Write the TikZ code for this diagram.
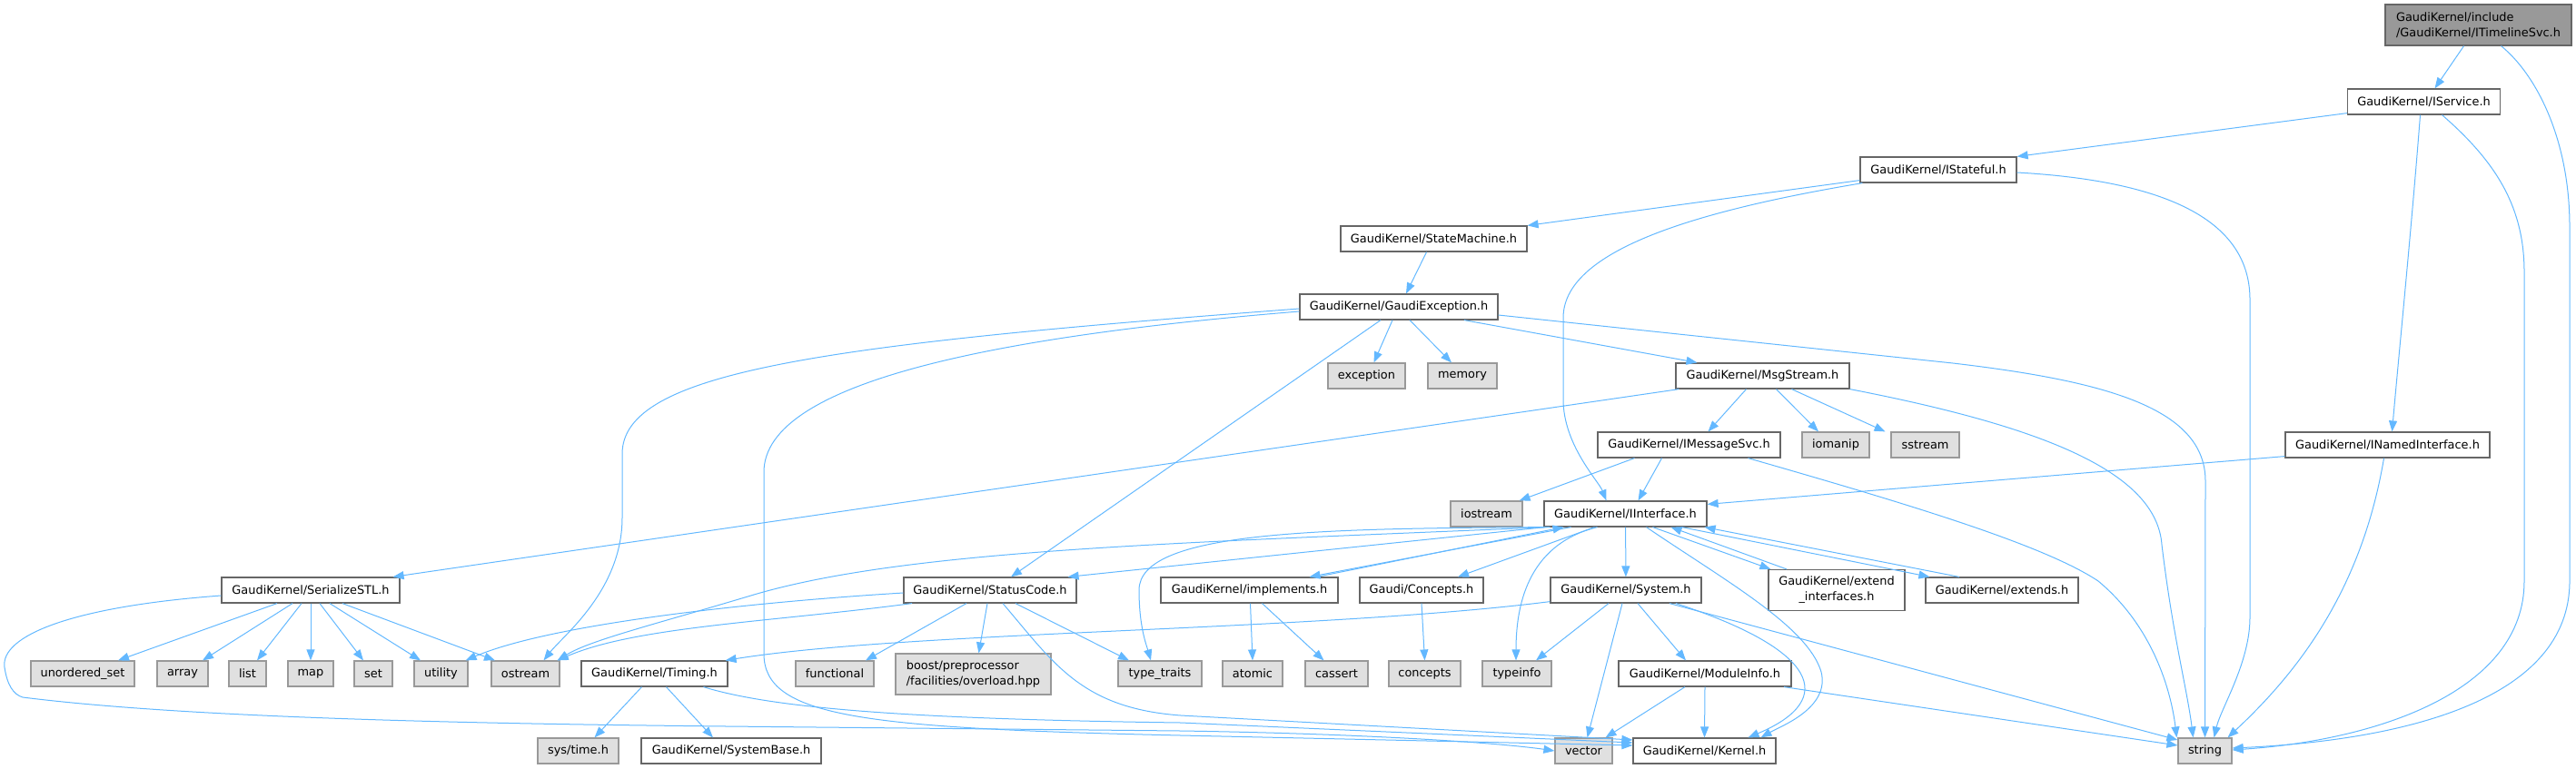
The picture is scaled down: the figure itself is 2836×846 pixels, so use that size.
\documentclass[tikz,border=0pt]{standalone}
\usepackage{fontspec}
\setmainfont{DejaVu Sans}
\usetikzlibrary{arrows.meta}
\definecolor{edgeblue}{HTML}{63B8FF}
\definecolor{boxline}{HTML}{666666}
\definecolor{sysfill}{HTML}{E0E0E0}
\definecolor{sysline}{HTML}{999999}
\definecolor{curfill}{HTML}{999999}

\begin{document}
\begin{tikzpicture}[x=1pt, y=-1pt,
    file/.style={draw=boxline, fill=white, line width=1.2pt, minimum height=28pt,
      inner xsep=1pt, inner ysep=2pt, font=\fontsize{12.9}{17}\selectfont},
    sysfile/.style={file, draw=sysline, fill=sysfill},
    curfile/.style={file, fill=curfill},
    inc/.style={draw=edgeblue, line width=1pt, -{Triangle[length=12pt,width=9pt]}}]
    \useasboundingbox (0,0) rectangle (2836,846);
    % headers of the project
    \node[curfile, minimum width=205pt, minimum height=45pt, align=left] (tls) at (2728.5,27.5) {GaudiKernel/include\\/GaudiKernel/ITimelineSvc.h};
    \node[file, minimum width=168pt] (isvc) at (2668.5,112) {GaudiKernel/IService.h};
    \node[file, minimum width=172pt] (istf) at (2134,187) {GaudiKernel/IStateful.h};
    \node[file, minimum width=205pt] (stm) at (1578.5,263) {GaudiKernel/StateMachine.h};
    \node[file, minimum width=218pt] (gex) at (1540,338) {GaudiKernel/GaudiException.h};
    \node[file, minimum width=191pt] (msg) at (1940.5,414) {GaudiKernel/MsgStream.h};
    \node[file, minimum width=201pt] (imsg) at (1859.5,490) {GaudiKernel/IMessageSvc.h};
    \node[file, minimum width=225pt] (inam) at (2628.5,490) {GaudiKernel/INamedInterface.h};
    \node[file, minimum width=179pt] (iif) at (1789.5,566) {GaudiKernel/IInterface.h};
    \node[file, minimum width=196pt] (ser) at (342,650) {GaudiKernel/SerializeSTL.h};
    \node[file, minimum width=190pt] (stc) at (1090,650) {GaudiKernel/StatusCode.h};
    \node[file, minimum width=195pt] (impl) at (1375.5,650) {GaudiKernel/implements.h};
    \node[file, minimum width=136pt] (cpt) at (1565,650) {Gaudi/Concepts.h};
    \node[file, minimum width=166pt] (sys) at (1790,650) {GaudiKernel/System.h};
    \node[file, minimum width=150pt, minimum height=45pt, align=center] (exif) at (2022,650) {GaudiKernel/extend\\\_interfaces.h};
    \node[file, minimum width=168pt] (ext) at (2204,650) {GaudiKernel/extends.h};
    \node[file, minimum width=161pt] (tim) at (720.5,742) {GaudiKernel/Timing.h};
    \node[file, minimum width=190pt] (mod) at (1877,742) {GaudiKernel/ModuleInfo.h};
    \node[file, minimum width=198pt] (sbs) at (805,827) {GaudiKernel/SystemBase.h};
    \node[file, minimum width=157pt] (krn) at (1876.5,827) {GaudiKernel/Kernel.h};
    % system headers
    \node[sysfile, minimum width=85pt] (exc) at (1504.5,414) {exception};
    \node[sysfile, minimum width=76pt] (mem) at (1610,414) {memory};
    \node[sysfile, minimum width=74pt] (iom) at (2021,490) {iomanip};
    \node[sysfile, minimum width=75pt] (sst) at (2119.5,490) {sstream};
    \node[sysfile, minimum width=79pt] (iost) at (1636.5,566) {iostream};
    \node[sysfile, minimum width=114pt] (uset) at (91,742) {unordered\_set};
    \node[sysfile, minimum width=56pt] (arr) at (201,742) {array};
    \node[sysfile, minimum width=41pt] (lst) at (272.5,742) {list};
    \node[sysfile, minimum width=50pt] (smap) at (342,742) {map};
    \node[sysfile, minimum width=42pt] (sset) at (411,742) {set};
    \node[sysfile, minimum width=59pt] (utl) at (485.5,742) {utility};
    \node[sysfile, minimum width=75pt] (ost) at (578.5,742) {ostream};
    \node[sysfile, minimum width=86pt] (fnc) at (919,742) {functional};
    \node[sysfile, minimum width=171pt, minimum height=45pt, align=left] (bst) at (1071.5,742.5) {boost/preprocessor\\/facilities/overload.hpp};
    \node[sysfile, minimum width=92pt] (ttr) at (1277,742) {type\_traits};
    \node[sysfile, minimum width=66pt] (atm) at (1379,742) {atomic};
    \node[sysfile, minimum width=69pt] (cas) at (1471.5,742) {cassert};
    \node[sysfile, minimum width=79pt] (ccp) at (1568.5,742) {concepts};
    \node[sysfile, minimum width=76pt] (tyi) at (1670,742) {typeinfo};
    \node[sysfile, minimum width=89pt] (syt) at (636.5,827) {sys/time.h};
    \node[sysfile, minimum width=63pt] (vec) at (1743.5,827) {vector};
    \node[sysfile, minimum width=59pt] (str) at (2427.5,827) {string};

    % ITimelineSvc.h, IService.h, IStateful.h
    \draw[inc] ([xshift=-16pt]tls.south) -- ([xshift=12pt]isvc.north);
    \draw[inc] ([xshift=25pt]tls.south) .. controls (2790,80) and (2829,150) .. (2829,250) -- (2829,640) .. controls (2829,770) and (2650,815) .. ([yshift=3pt]str.east);
    \draw[inc] ([yshift=2pt]isvc.south west) -- (istf.north east);
    \draw[inc] ([xshift=-4pt]isvc.south) .. controls (2655,250) and (2640,400) .. ([xshift=5pt]inam.north);
    \draw[inc] ([xshift=20pt]isvc.south) .. controls (2750,180) and (2779,230) .. (2779,300) -- (2779,640) .. controls (2779,760) and (2620,815) .. ([yshift=1pt]str.east);
    \draw[inc] ([yshift=3pt]istf.south west) -- (stm.north east);
    \draw[inc] ([xshift=3pt]istf.south west) .. controls (1850,235) and (1721,280) .. (1721,350) -- (1721,440) .. controls (1721,490) and (1760,530) .. ([xshift=-21pt]iif.north);
    \draw[inc] ([yshift=-3pt]istf.east) .. controls (2400,200) and (2477,250) .. (2477,330) -- (2477,680) .. controls (2477,730) and (2445,780) .. ([xshift=10pt]str.north);
    \draw[inc] ([xshift=-8pt]stm.south) -- ([xshift=8pt]gex.north);
    % GaudiException.h
    \draw[inc] ([xshift=-7pt]gex.south) -- ([xshift=8pt]exc.north);
    \draw[inc] ([xshift=12pt]gex.south) -- ([xshift=-12pt]mem.north);
    \draw[inc] ([xshift=72pt]gex.south) -- ([xshift=-72pt]msg.north);
    \draw[inc] ([xshift=-20pt]gex.south) -- ([xshift=23pt]stc.north);
    \draw[inc] ([yshift=-9pt]gex.east) -- (2150,400) .. controls (2320,420) and (2428,450) .. (2428,530) -- (str.north);
    \draw[inc] ([yshift=-2pt]gex.west) .. controls (900,380) and (685,410) .. (685,500) -- (685,570) .. controls (685,650) and (620,700) .. ([xshift=20pt]ost.north);
    \draw[inc] ([yshift=-5pt]gex.west) .. controls (1100,370) and (841,420) .. (841,520) -- (841,720) .. controls (841,790) and (950,802) .. (1300,810) -- ([yshift=6pt]krn.west);
    % MsgStream.h, IMessageSvc.h, INamedInterface.h
    \draw[inc] ([xshift=-18pt]msg.south) -- ([xshift=21pt]imsg.north);
    \draw[inc] ([xshift=15pt]msg.south) -- ([xshift=-19pt]iom.north);
    \draw[inc] ([xshift=32pt]msg.south) -- ([xshift=-44pt]sst.north);
    \draw[inc] (msg.south east) .. controls (2250,470) and (2374,520) .. (2380,600) .. controls (2392,700) and (2408,760) .. ([xshift=-13pt]str.north);
    \draw[inc] ([xshift=4pt]msg.south west) -- ([xshift=-8pt]ser.north east);
    \draw[inc] ([xshift=-60pt]imsg.south) -- ([xshift=-4pt]iost.north east);
    \draw[inc] ([xshift=-30pt]imsg.south) -- ([xshift=14pt]iif.north);
    \draw[inc] ([xshift=65pt]imsg.south) .. controls (2100,555) and (2250,600) .. (2310,640) .. controls (2370,690) and (2390,760) .. ([xshift=-1pt]str.north west);
    \draw[inc] ([yshift=2pt]inam.south west) -- ([yshift=-4pt]iif.north east);
    \draw[inc] ([xshift=-4pt]inam.south) .. controls (2600,650) and (2530,740) .. ([xshift=25pt]str.north);
    % IInterface.h
    \draw[inc] ([xshift=2pt]iif.south west) -- ([xshift=-10pt]stc.north east);
    \draw[inc] ([xshift=4pt]iif.south west) .. controls (1300,598) and (1000,605) .. (830,655) .. controls (720,688) and (650,705) .. ([xshift=-3pt]ost.north east);
    \draw[inc] ([xshift=7pt]iif.south west) .. controls (1450,582) and (1254,585) .. (1254,650) .. controls (1254,690) and (1262,710) .. ([xshift=-10pt]ttr.north);
    \draw[inc] ([xshift=-60pt]iif.south) -- ([xshift=66pt]impl.north);
    \draw[inc] ([xshift=74pt]impl.north) -- ([xshift=-68pt]iif.south);
    \draw[inc] ([xshift=-34pt]iif.south) -- ([xshift=40pt]cpt.north);
    \draw[inc] (iif) -- (sys);
    \draw[inc] ([xshift=-31pt]iif.south) .. controls (1680,600) and (1669,670) .. ([xshift=-1pt]tyi.north);
    \draw[inc] ([xshift=23pt]iif.south) .. controls (1900,640) and (1990,690) .. (2005,740) .. controls (2015,780) and (1960,800) .. ([xshift=62pt]krn.north);
    \draw[inc] ([xshift=30pt]iif.south) -- ([xshift=3pt]exif.north west);
    \draw[inc] ([xshift=-55pt]exif.north) -- ([xshift=50pt]iif.south);
    \draw[inc] ([xshift=62pt]iif.south) -- ([xshift=5pt]ext.north west);
    \draw[inc] ([xshift=-47pt]ext.north) -- ([xshift=-3pt]iif.south east);
    % implements.h, Concepts.h, System.h, ModuleInfo.h
    \draw[inc] ([xshift=1pt]impl.south) -- (atm.north);
    \draw[inc] ([xshift=14pt]impl.south) -- ([xshift=-14pt]cas.north);
    \draw[inc] (cpt.south) -- (ccp.north);
    \draw[inc] ([xshift=-19pt]sys.south) -- ([xshift=21pt]tyi.north);
    \draw[inc] ([xshift=-4pt]sys.south) -- ([xshift=4pt]vec.north);
    \draw[inc] ([xshift=13pt]sys.south) -- ([xshift=-21pt]mod.north);
    \draw[inc] ([yshift=2pt]sys.south west) .. controls (1450,695) and (1000,695) .. ([xshift=-3pt]tim.north east);
    \draw[inc] ([xshift=55pt]sys.south) .. controls (2000,715) and (2025,770) .. ([xshift=48pt]krn.north);
    \draw[inc] ([xshift=48pt]sys.south) -- ([yshift=12pt]str.west);
    \draw[inc] ([xshift=-22pt]mod.south) -- ([xshift=24pt]vec.north);
    \draw[inc] (mod.south) -- (krn.north);
    \draw[inc] ([xshift=87pt]mod.south) -- ([yshift=6pt]str.west);
    % SerializeSTL.h
    \foreach \t/\a/\b in {uset/-37/39, arr/-20/22, lst/-10/10.5, smap/0/0, sset/10/-11, utl/21/-22.5, ost/35/-33.5}
        \draw[inc] ([xshift=\a pt]ser.south) -- ([xshift=\b pt]\t.north);
    \draw[inc] ([yshift=-6pt]ser.west) .. controls (80,668) and (0,700) .. (5,735) .. controls (8,755) and (15,765) .. (25,768) .. controls (200,790) and (500,797) .. (800,800) -- (1300,805) .. controls (1500,808) and (1650,818) .. (vec.west);
    % StatusCode.h
    \draw[inc] ([yshift=-3pt]stc.west) .. controls (800,665) and (600,690) .. ([xshift=-3pt]utl.north east);
    \draw[inc] ([xshift=-86pt]stc.south) .. controls (850,685) and (700,690) .. ([xshift=-3pt]ost.north east);
    \draw[inc] ([xshift=-26pt]stc.south) -- ([xshift=34pt]fnc.north);
    \draw[inc] ([xshift=-3pt]stc.south) -- ([xshift=6pt]bst.north);
    \draw[inc] ([xshift=28pt]stc.south) -- ([xshift=-34pt]ttr.north);
    \draw[inc] ([xshift=14pt]stc.south) .. controls (1160,730) and (1190,780) .. (1300,788) -- ([yshift=12pt]krn.west);
    % Timing.h
    \draw[inc] ([xshift=-14pt]tim.south) -- ([xshift=18pt]syt.north);
    \draw[inc] ([xshift=13pt]tim.south) -- ([xshift=-20pt]sbs.north);
    \draw[inc] ([xshift=54pt]tim.south) .. controls (850,780) and (1000,792) .. (1300,796) -- ([yshift=9pt]krn.west);
\end{tikzpicture}
\end{document}
